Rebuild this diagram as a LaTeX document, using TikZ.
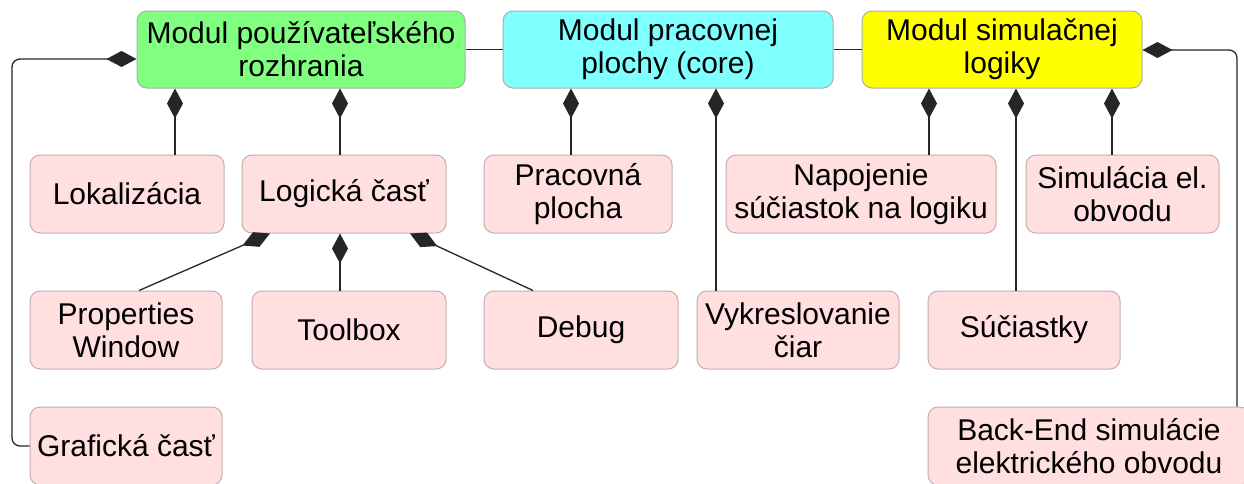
\documentclass[tikz,border=0pt]{standalone}
\usepackage{fontspec}
\setmainfont{Liberation Sans}
\usetikzlibrary{arrows.meta}

\definecolor{guigreen}{HTML}{80FF80}
\definecolor{corecyan}{HTML}{80FFFF}
\definecolor{simyellow}{HTML}{FFFF00}
\definecolor{partpink}{HTML}{FFDFDF}
\definecolor{partborder}{HTML}{C4AEAE}
\definecolor{modborder}{HTML}{A8B0A8}

\tikzset{
  box/.style={draw, line width=1pt, rounded corners=10pt, align=center,
    inner sep=0pt, font=\fontsize{30}{33}\selectfont},
  module/.style={box, draw=modborder, minimum height=77pt},
  part/.style={box, draw=partborder, fill=partpink, minimum height=78pt},
  link/.style={line width=1.3pt, draw=black!85},
  comp/.style={link, {Diamond[length=30pt,width=16pt]}-},
}

\begin{document}
\begin{tikzpicture}[x=1pt,y=-1pt]
\useasboundingbox (0,0) rectangle (1244,483);
\fill[white] (0,0) rectangle (1244,483);
\clip (0,0) rectangle (1244,483);

% modules
\node[module, fill=guigreen, minimum width=328pt] (gui) at (301,49.5)
  {Modul používateľského\\rozhrania};
\node[module, fill=corecyan, minimum width=330pt] (core) at (668,49.5)
  {Modul pracovnej\\plochy (core)};
\node[module, fill=simyellow, minimum width=280pt] (sim) at (1002,49.5)
  {Modul simulačnej\\logiky};

% second row
\node[part, minimum width=194pt] (lok) at (127,194) {Lokalizácia};
\node[part, minimum width=204pt] (logic) at (344,194) {Logická časť};
\node[part, minimum width=188pt] (prac) at (578,194) {Pracovná\\plocha};
\node[part, minimum width=270pt] (nap) at (861,194) {Napojenie\\súčiastok na logiku};
\node[part, minimum width=193pt] (simel) at (1122.5,194) {Simulácia el.\\obvodu};

% third row
\node[part, minimum width=192pt] (prop) at (126,330) {Properties\\Window};
\node[part, minimum width=194pt] (tool) at (349,330) {Toolbox};
\node[part, minimum width=194pt] (debug) at (581,330) {Debug};
\node[part, minimum width=202pt] (vyk) at (798,330) {Vykreslovanie\\čiar};
\node[part, minimum width=192pt] (suc) at (1024,330) {Súčiastky};

% fourth row
\node[part, minimum width=192pt] (graf) at (126,446) {Grafická časť};
\node[part, minimum width=322pt] (back) at (1089,446)
  {Back-End simulácie\\elektrického obvodu};

% links between modules
\draw[link] (gui.east) -- (core.west);
\draw[link] (core.east) -- (sim.west);

% user interface module
\draw[comp, rounded corners=8pt] (gui.west |- 0,59) -- (12,59) |- (graf.west);
\draw[comp] (gui.south -| 175,0) -- (lok.north -| 175,0);
\draw[comp] (gui.south -| 340,0) -- (logic.north -| 340,0);

% logical part
\draw[comp] ([xshift=-74pt]logic.south) -- ([xshift=13pt]prop.north);
\draw[comp] (logic.south -| 340,0) -- (tool.north -| 340,0);
\draw[comp] ([xshift=66pt]logic.south) -- ([xshift=-48pt]debug.north);

% workspace module
\draw[comp] (core.south -| 571,0) -- (prac.north -| 571,0);
\draw[comp] (core.south -| 716,0) -- (vyk.north -| 716,0);

% simulation logic module
\draw[comp] (sim.south -| 929,0) -- (nap.north -| 929,0);
\draw[comp] (sim.south -| 1016,0) -- (suc.north -| 1016,0);
\draw[comp] (sim.south -| 1112,0) -- (simel.north -| 1112,0);
\draw[comp, rounded corners=8pt] (sim.east |- 0,50) -| (back.north -| 1237,0);
\end{tikzpicture}
\end{document}
